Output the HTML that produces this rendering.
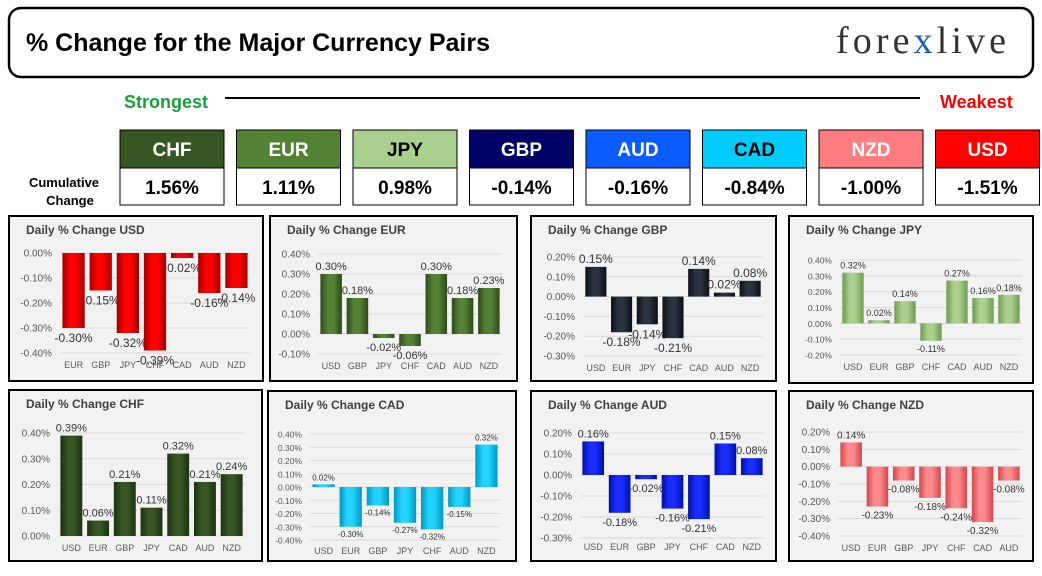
<!DOCTYPE html>
<html><head><meta charset="utf-8"><style>
body{margin:0;background:#fff;width:1042px;height:571px;overflow:hidden;font-family:"Liberation Sans",sans-serif}
</style></head><body>
<svg id="s" width="1042" height="571" xmlns="http://www.w3.org/2000/svg">
<rect x="9" y="8" width="1024" height="69" rx="12" fill="#fff" stroke="#000" stroke-width="2.5"/>
<text x="26" y="51" font-size="25" font-weight="bold" font-family="Liberation Sans Narrow, Liberation Sans, sans-serif">% Change for the Major Currency Pairs</text>
<text x="836" y="53" font-size="38" textLength="170" lengthAdjust="spacing" font-family="Liberation Serif, serif" fill="#333">fore<tspan fill="#1a5fa8">x</tspan>live</text>
<text x="124" y="108" font-size="18" font-weight="bold" fill="#1aa03a">Strongest</text>
<line x1="225" y1="98" x2="920" y2="98" stroke="#000" stroke-width="2"/>
<text x="940" y="108" font-size="18" font-weight="bold" fill="#ff0000">Weakest</text>
<text x="64" y="187" font-size="13" font-weight="bold" text-anchor="middle">Cumulative</text>
<text x="70" y="205" font-size="13" font-weight="bold" text-anchor="middle">Change</text>
</svg>
<script>
const NS='http://www.w3.org/2000/svg';
const svg=document.getElementById('s');
function el(t,a,p){const e=document.createElementNS(NS,t);for(const k in a)e.setAttribute(k,a[k]);(p||svg).appendChild(e);return e;}

const rankCurrencies=['CHF','EUR','JPY','GBP','AUD','CAD','NZD','USD'];
const rankValues=[1.56,1.11,0.98,-0.14,-0.16,-0.84,-1.00,-1.51];
const rankColors=['#375623','#548235','#a9d08e','#000066','#0a5cff','#00ccff','#ff7c80','#ff0000'];
const rankText=['#fff','#fff','#000','#fff','#fff','#000','#fff','#fff'];
rankCurrencies.forEach((c,i)=>{
  const x=120+i*116.5;
  const h=el('rect',{x:x,y:130,width:104,height:38,fill:rankColors[i],stroke:'#000','stroke-width':1});
  
  
  const t=el('text',{x:x+52,y:156,'font-size':19,'font-weight':'bold','text-anchor':'middle',fill:rankText[i]});
  t.textContent=c;
  
  
  const b=el('rect',{x:x,y:168,width:104,height:37,fill:'#fff',stroke:'#000','stroke-width':1});
  
  
  const v=el('text',{x:x+52,y:194,'font-size':19,'font-weight':'bold','text-anchor':'middle'});
  v.textContent=rankValues[i].toFixed(2)+'%';
  
  
});

const usdCats=['EUR','GBP','JPY','CHF','CAD','AUD','NZD'];
const usdVals=[-0.30,-0.15,-0.32,-0.39,-0.02,-0.16,-0.14];
const eurCats=['USD','GBP','JPY','CHF','CAD','AUD','NZD'];
const eurVals=[0.30,0.18,-0.02,-0.06,0.30,0.18,0.23];
const gbpCats=['USD','EUR','JPY','CHF','CAD','AUD','NZD'];
const gbpVals=[0.15,-0.18,-0.14,-0.21,0.14,0.02,0.08];
const jpyCats=['USD','EUR','GBP','CHF','CAD','AUD','NZD'];
const jpyVals=[0.32,0.02,0.14,-0.11,0.27,0.16,0.18];
const chfCats=['USD','EUR','GBP','JPY','CAD','AUD','NZD'];
const chfVals=[0.39,0.06,0.21,0.11,0.32,0.21,0.24];
const cadCats=['USD','EUR','GBP','JPY','CHF','AUD','NZD'];
const cadVals=[0.02,-0.30,-0.14,-0.27,-0.32,-0.15,0.32];
const audCats=['USD','EUR','GBP','JPY','CHF','CAD','NZD'];
const audVals=[0.16,-0.18,-0.02,-0.16,-0.21,0.15,0.08];
const nzdCats=['USD','EUR','GBP','JPY','CHF','CAD','AUD'];
const nzdVals=[0.14,-0.23,-0.08,-0.18,-0.24,-0.32,-0.08];

const panels=[
 {n:'USD',cats:usdCats,vals:usdVals,box:[9,216,254,165],yMax:0,yMin:-0.4,top:253,bot:353,px:[60,250],cy:368,c:'#ff0000',d:'#a00000',fs:12},
 {n:'EUR',cats:eurCats,vals:eurVals,box:[270,216,247,165],yMax:0.4,yMin:-0.1,top:254,bot:354,px:[318,502],cy:369,c:'#548235',d:'#2e4a1c',fs:11},
 {n:'GBP',cats:gbpCats,vals:gbpVals,box:[531,216,245,165],yMax:0.2,yMin:-0.3,top:257,bot:356,px:[583,763],cy:371,c:'#2a3340',d:'#0b0f16',fs:12},
 {n:'JPY',cats:jpyCats,vals:jpyVals,box:[789,216,244,167],yMax:0.4,yMin:-0.2,top:260,bot:355,px:[840,1022],cy:370,c:'#a9d08e',d:'#6f9a52',fs:9},
 {n:'CHF',cats:chfCats,vals:chfVals,box:[9,390,253,171],yMax:0.4,yMin:0,top:433,bot:536,px:[58,245],cy:551,c:'#375623',d:'#1d3112',fs:11},
 {n:'CAD',cats:cadCats,vals:cadVals,box:[268,391,248,170],yMax:0.4,yMin:-0.4,top:434,bot:540,px:[310,500],cy:554,c:'#22d4ff',d:'#0098c0',fs:8},
 {n:'AUD',cats:audCats,vals:audVals,box:[531,391,245,170],yMax:0.2,yMin:-0.3,top:433,bot:538,px:[580,765],cy:550,c:'#1a2cff',d:'#0010a0',fs:11},
 {n:'NZD',cats:nzdCats,vals:nzdVals,box:[789,391,244,170],yMax:0.2,yMin:-0.4,top:432,bot:536,px:[838,1022],cy:551,c:'#ff8a8c',d:'#d0484c',fs:10}
];

const defs=el('defs',{});
panels.forEach((p,pi)=>{
  const g=el('linearGradient',{id:'g'+pi,x1:0,x2:1,y1:0,y2:0},defs);
  el('stop',{offset:0,'stop-color':p.d},g);
  el('stop',{offset:0.35,'stop-color':p.c},g);
  el('stop',{offset:0.6,'stop-color':p.c},g);
  el('stop',{offset:1,'stop-color':p.d},g);
  const k=p.n.toLowerCase();
  const [bx,by,bw,bh]=p.box;
  const r=el('rect',{x:bx,y:by,width:bw,height:bh,fill:'#f2f2f2',stroke:'#000','stroke-width':2});
  
  
  const t=el('text',{x:bx+17,y:by+18,'font-size':12,'font-weight':'bold',fill:'#404040'});
  t.textContent='Daily % Change '+p.n;
  
  
  const Y=v=>p.top+(p.yMax-v)/(p.yMax-p.yMin)*(p.bot-p.top);
  const nt=Math.round((p.yMax-p.yMin)/0.1);
  for(let i=0;i<=nt;i++){
    const v=p.yMax-i*0.1;
    const gl=el('line',{x1:p.px[0],x2:p.px[1],y1:Y(v),y2:Y(v),stroke:'#d9d9d9','stroke-width':1});
    
    
    const tl=el('text',{x:p.px[0]-8,y:Y(v)+3.5,'font-size':p.fs<10?8.5:10,'text-anchor':'end',fill:'#595959'});
    tl.textContent=(Math.abs(v)<1e-9?0:v).toFixed(2)+'%';
    
    
  }
  const n=p.cats.length, step=(p.px[1]-p.px[0])/n, bw2=step*0.82;
  p.cats.forEach((c,i)=>{
    const cx=p.px[0]+step*(i+0.5);
    const v=p.vals[i], y0=Y(0), y1=Y(v);
    const b=el('rect',{x:cx-bw2/2,y:Math.min(y0,y1),width:bw2,height:Math.max(1.5,Math.abs(y1-y0)),fill:'url(#g'+pi+')'});
    
    
    const ly=v>=0?y1-4:y1+p.fs+2;
    const lb=el('text',{x:cx,y:ly,'font-size':p.fs,'text-anchor':'middle',fill:'#333'});
    lb.textContent=v.toFixed(2)+'%';
    
    
    const cl=el('text',{x:cx,y:p.cy,'font-size':9,'text-anchor':'middle',fill:'#595959'});
    cl.textContent=c;
    
    
  });
});
</script>
</body></html>
